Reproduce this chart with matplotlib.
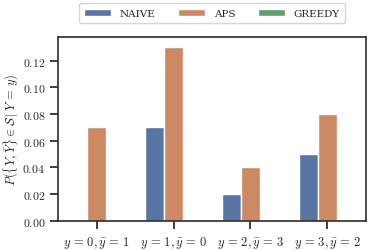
import matplotlib
matplotlib.use("Agg")
import matplotlib.pyplot as plt
import numpy as np
import seaborn as sns

# data
categories = [r"$y\,=\,0,\bar{y}\,=\,1$", r"$y\,=\,1,\bar{y}\,=\,0$",
              r"$y\,=\,2,\bar{y}\,=\,3$", r"$y\,=\,3,\bar{y}\,=\,2$"]
methods = ["NAIVE", "APS", "GREEDY"]
naive = [0.0, 0.07, 0.02, 0.05]
aps = [0.07, 0.13, 0.04, 0.08]
greedy = [0.0, 0.0, 0.0, 0.0]

sns.set_theme(style="ticks")
plt.rcParams["font.family"] = ["serif"]
plt.rcParams["font.serif"] = ["DejaVu Serif"]
plt.rcParams["mathtext.fontset"] = "cm"

colors = [sns.desaturate(c, 0.75) for c in sns.color_palette("deep")[:3]]

fig, ax = plt.subplots(figsize=(3.74, 2.51), dpi=100)
x = np.arange(len(categories))
w = 0.25
for i, (vals, lab) in enumerate(zip([naive, aps, greedy], methods)):
    ax.bar(x + (i - 1) * w, vals, w, color=colors[i], edgecolor="white", linewidth=1, label=lab)

ax.set_xticks(x)
ax.set_xticklabels(categories, fontsize=9)
ax.set_xlim(-0.5, 3.5)
ax.set_ylim(0, 0.1375)
yt = np.arange(0, 0.13, 0.02)
ax.set_yticks(yt)
ax.set_yticklabels([f"${v:.2f}$" for v in yt], fontsize=8.5)
ax.set_ylabel(r"$P(\{Y,\bar{Y}\}\in\mathcal{S}\,|\,Y\,=\,y)$", fontsize=9)
ax.yaxis.set_label_coords(-0.122, 0.5)
for s in ax.spines.values():
    s.set_color("#333333")

ax.legend(loc="lower center", bbox_to_anchor=(0.5, 1.05), ncol=3, fontsize=7.5,
          frameon=True, handlelength=2.6, columnspacing=2.2, borderpad=0.5)

plt.subplots_adjust(left=0.156, right=0.978, top=0.847, bottom=0.117)
plt.savefig("out.png")
